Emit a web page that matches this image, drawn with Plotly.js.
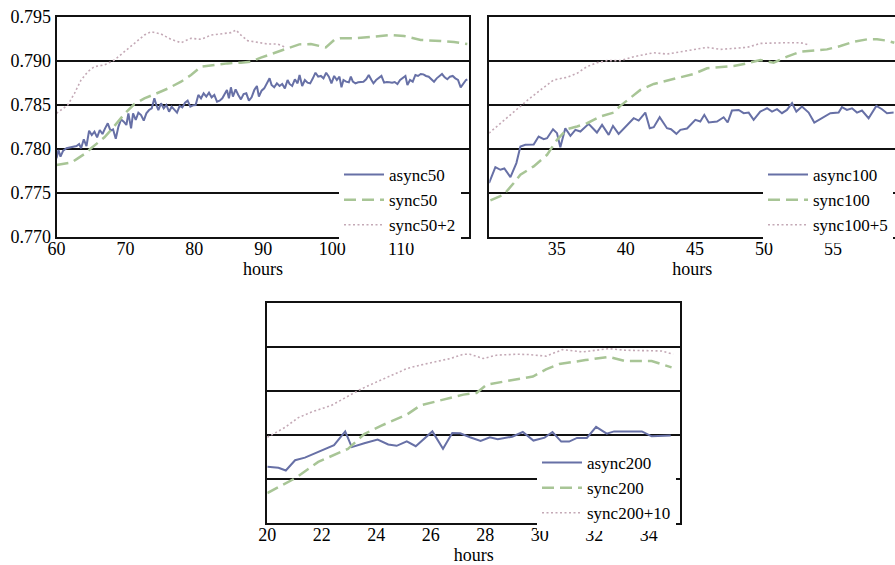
<!DOCTYPE html>
<html>
<head>
<meta charset="utf-8">
<script src="https://cdn.plot.ly/plotly-3.0.1.min.js"></script>
<style>html,body{margin:0;padding:0;background:#fff;overflow:hidden}#chart{width:895px;height:565px}</style>
</head>
<body>
<div id="chart"></div>
<script>
// ---- Panel 1: batch 50 ----
const async50X = [60.00,60.29,60.58,60.97,61.45,61.93,62.42,62.90,63.29,63.57,63.96,64.35,64.73,65.12,65.51,65.89,66.28,66.67,67.05,67.44,67.83,68.21,68.60,68.99,69.37,69.76,70.14,70.43,70.82,71.11,71.50,71.88,72.27,72.66,73.04,73.43,73.82,74.20,74.49,74.78,75.17,75.56,75.94,76.33,76.71,77.10,77.49,77.87,78.26,78.65,79.03,79.42,79.81,80.19,80.58,80.97,81.35,81.74,82.13,82.51,82.90,83.29,83.67,84.06,84.44,84.73,85.02,85.31,85.60,85.99,86.38,86.76,87.15,87.54,87.92,88.31,88.70,89.08,89.37,89.76,90.14,90.53,90.92,91.21,91.59,91.98,92.37,92.75,93.14,93.53,93.82,94.20,94.59,94.98,95.27,95.65,96.04,96.43,96.81,97.20,97.58,97.97,98.36,98.74,99.13,99.52,99.90,100.29,100.68,101.06,101.35,101.64,102.03,102.42,102.71,103.00,103.38,103.77,104.15,104.54,104.93,105.31,105.70,105.99,106.38,106.76,107.15,107.54,107.92,108.31,108.70,109.08,109.47,109.86,110.24,110.63,110.92,111.30,111.69,112.08,112.46,112.85,113.24,113.62,114.01,114.40,114.78,115.17,115.56,115.94,116.33,116.71,117.10,117.49,117.87,118.26,118.65,119.03,119.42,119.61];
const async50Y = [0.77894,0.77989,0.77913,0.77981,0.78008,0.78019,0.78026,0.78034,0.78057,0.78008,0.78110,0.78034,0.78208,0.78159,0.78197,0.78133,0.78216,0.78170,0.78235,0.78292,0.78208,0.78223,0.78117,0.78254,0.78337,0.78311,0.78273,0.78405,0.78235,0.78405,0.78330,0.78413,0.78386,0.78322,0.78405,0.78443,0.78462,0.78576,0.78500,0.78443,0.78519,0.78462,0.78500,0.78424,0.78481,0.78443,0.78413,0.78489,0.78473,0.78526,0.78549,0.78481,0.78496,0.78500,0.78614,0.78576,0.78633,0.78595,0.78640,0.78587,0.78614,0.78538,0.78549,0.78576,0.78633,0.78670,0.78576,0.78701,0.78595,0.78678,0.78614,0.78564,0.78625,0.78633,0.78549,0.78587,0.78670,0.78716,0.78595,0.78663,0.78689,0.78754,0.78803,0.78727,0.78701,0.78746,0.78716,0.78739,0.78689,0.78784,0.78739,0.78716,0.78792,0.78746,0.78841,0.78716,0.78784,0.78754,0.78746,0.78803,0.78867,0.78822,0.78830,0.78803,0.78867,0.78822,0.78746,0.78830,0.78784,0.78822,0.78701,0.78784,0.78765,0.78758,0.78822,0.78765,0.78746,0.78758,0.78761,0.78765,0.78792,0.78841,0.78784,0.78746,0.78784,0.78803,0.78830,0.78754,0.78761,0.78758,0.78754,0.78761,0.78739,0.78784,0.78803,0.78830,0.78727,0.78784,0.78765,0.78841,0.78830,0.78852,0.78848,0.78830,0.78822,0.78792,0.78765,0.78803,0.78830,0.78852,0.78814,0.78792,0.78822,0.78830,0.78803,0.78784,0.78701,0.78746,0.78784,0.78792];
const sync50X = [60.00,61.16,62.13,63.09,64.06,65.02,65.99,66.96,67.92,68.89,69.86,71.30,72.75,74.20,76.14,78.07,79.52,80.97,82.90,84.83,86.76,88.21,89.66,91.59,93.53,95.22,96.91,99.08,100.30,101.20,103.19,106.09,108.50,110.43,112.85,115.75,117.68,119.61];
const sync50Y = [0.77818,0.77837,0.77845,0.77894,0.77943,0.78008,0.78072,0.78133,0.78216,0.78311,0.78398,0.78511,0.78576,0.78621,0.78686,0.78765,0.78841,0.78936,0.78955,0.78973,0.78981,0.78992,0.79038,0.79087,0.79144,0.79189,0.79193,0.79155,0.79240,0.79258,0.79258,0.79277,0.79295,0.79284,0.79239,0.79227,0.79216,0.79193];
const sync50p2X = [60.00,61.64,62.61,63.57,64.54,65.51,66.96,68.41,69.86,71.30,72.75,73.72,75.17,76.62,78.07,79.52,80.97,82.42,83.86,85.31,86.04,86.76,87.73,89.18,90.63,92.08,93.04];
const sync50p2Y = [0.78405,0.78500,0.78633,0.78784,0.78879,0.78936,0.78955,0.79011,0.79106,0.79201,0.79295,0.79333,0.79307,0.79246,0.79208,0.79258,0.79246,0.79295,0.79307,0.79322,0.79352,0.79295,0.79231,0.79208,0.79193,0.79193,0.79163];

// ---- Panel 2: batch 100 ----
const async100X = [30.10,30.56,30.92,31.21,31.65,32.08,32.37,32.73,33.33,33.69,34.06,34.30,34.73,35.02,35.26,35.62,35.99,36.35,36.71,37.31,37.91,38.28,38.76,39.07,39.48,40.09,40.57,40.93,41.41,41.73,42.02,42.45,42.98,43.27,43.66,43.95,44.43,45.03,45.39,45.68,46.00,46.60,47.08,47.37,47.68,48.17,48.53,48.89,49.25,49.73,50.22,50.58,50.94,51.30,51.66,52.03,52.34,52.75,53.23,53.64,54.08,54.80,55.40,55.64,56.00,56.37,56.73,57.09,57.57,58.13,58.54,58.90,59.38];
const async100Y = [0.77613,0.77794,0.77764,0.77779,0.77681,0.77840,0.78029,0.78047,0.78051,0.78142,0.78112,0.78123,0.78225,0.78180,0.78021,0.78236,0.78149,0.78218,0.78199,0.78286,0.78187,0.78274,0.78161,0.78263,0.78172,0.78274,0.78350,0.78323,0.78414,0.78236,0.78248,0.78361,0.78236,0.78225,0.78172,0.78218,0.78233,0.78331,0.78312,0.78388,0.78301,0.78312,0.78361,0.78301,0.78437,0.78444,0.78407,0.78414,0.78331,0.78425,0.78463,0.78425,0.78452,0.78407,0.78444,0.78520,0.78425,0.78482,0.78414,0.78301,0.78338,0.78407,0.78414,0.78475,0.78444,0.78463,0.78414,0.78437,0.78350,0.78490,0.78452,0.78407,0.78414];
const sync100X = [30.20,31.16,31.89,32.37,33.33,34.30,35.02,35.75,36.47,37.20,38.16,39.12,39.60,40.33,41.05,42.02,42.98,43.95,44.91,45.88,46.84,47.81,48.77,49.74,50.70,51.67,52.63,53.60,54.56,55.53,56.49,57.46,58.18,58.90,59.43];
const sync100Y = [0.77416,0.77480,0.77613,0.77707,0.77802,0.77934,0.78104,0.78225,0.78255,0.78293,0.78369,0.78414,0.78490,0.78577,0.78671,0.78739,0.78777,0.78815,0.78853,0.78917,0.78928,0.78943,0.78974,0.79011,0.78981,0.79049,0.79106,0.79117,0.79132,0.79170,0.79219,0.79246,0.79246,0.79231,0.79208];
const sync100p5X = [30.10,30.92,31.89,32.85,33.82,34.78,35.75,36.47,37.19,37.91,38.64,39.60,40.57,41.53,42.02,42.98,43.95,44.91,45.88,46.84,47.81,48.77,49.74,50.70,51.67,52.63,53.31];
const sync100p5Y = [0.78180,0.78293,0.78425,0.78550,0.78671,0.78785,0.78815,0.78860,0.78936,0.78981,0.79004,0.79004,0.79049,0.79079,0.79094,0.79079,0.79106,0.79125,0.79155,0.79132,0.79144,0.79155,0.79200,0.79208,0.79208,0.79208,0.79181];

// ---- Panel 3: batch 200 ----
const async200X = [20.00,20.41,20.68,21.02,21.38,21.75,22.11,22.45,22.86,23.10,23.56,24.05,24.44,24.75,25.12,25.45,26.06,26.45,26.79,27.08,27.44,27.83,28.17,28.46,28.99,29.38,29.77,30.18,30.47,30.79,31.08,31.37,31.73,32.07,32.46,32.73,33.26,33.75,34.11,34.47,34.81];
const async200Y = [0.77638,0.77627,0.77597,0.77713,0.77743,0.77791,0.77843,0.77884,0.78041,0.77862,0.77907,0.77948,0.77892,0.77877,0.77929,0.77873,0.78041,0.77843,0.78022,0.78019,0.77974,0.77933,0.77974,0.77952,0.77981,0.78034,0.77937,0.77970,0.78034,0.77925,0.77925,0.77967,0.77967,0.78093,0.78015,0.78041,0.78041,0.78041,0.77985,0.77993,0.77993];
const sync200X = [20.00,21.02,21.87,22.96,23.56,24.17,25.14,25.62,26.23,27.20,27.68,28.05,28.90,29.75,30.23,30.72,31.68,32.53,33.14,34.11,34.84];
const sync200Y = [0.77340,0.77508,0.77694,0.77843,0.78011,0.78105,0.78235,0.78336,0.78384,0.78459,0.78478,0.78571,0.78619,0.78664,0.78746,0.78806,0.78851,0.78888,0.78840,0.78840,0.78769];
const sync200p10X = [20.00,20.65,21.14,21.62,22.35,22.84,23.44,24.05,24.53,25.14,25.62,26.23,26.72,27.20,27.44,27.93,28.41,29.14,29.62,30.23,30.84,31.56,32.53,33.14,33.87,34.47,34.90];
const sync200p10Y = [0.77974,0.78086,0.78198,0.78261,0.78336,0.78422,0.78522,0.78608,0.78672,0.78757,0.78795,0.78840,0.78869,0.78918,0.78918,0.78869,0.78907,0.78918,0.78914,0.78896,0.78970,0.78944,0.78981,0.78963,0.78955,0.78955,0.78918];

const yTicks = [0.770, 0.775, 0.780, 0.785, 0.790, 0.795];

const cAsync = '#6770a6', cSync = '#a8c596', cPlus = '#c4a9b6';
const FONT = 'Times New Roman, Liberation Serif, Tinos, DejaVu Serif, serif';

function tr(x, y, name, kind, xa, ya, lg) {
  const line = kind === 'a' ? {color: cAsync, width: 2}
             : kind === 's' ? {color: cSync, width: 2.5, dash: '12px,6px'}
             : {color: cPlus, width: 1.6, dash: '2px,2.5px'};
  return {x, y, name, type: 'scatter', mode: 'lines', line, xaxis: xa, yaxis: ya, legend: lg};
}

const data = [
  tr(async50X, async50Y, 'async50', 'a', 'x', 'y', 'legend'),
  tr(sync50X, sync50Y, 'sync50', 's', 'x', 'y', 'legend'),
  tr(sync50p2X, sync50p2Y, 'sync50+2', 'p', 'x', 'y', 'legend'),
  tr(async100X, async100Y, 'async100', 'a', 'x2', 'y2', 'legend2'),
  tr(sync100X, sync100Y, 'sync100', 's', 'x2', 'y2', 'legend2'),
  tr(sync100p5X, sync100p5Y, 'sync100+5', 'p', 'x2', 'y2', 'legend2'),
  tr(async200X, async200Y, 'async200', 'a', 'x3', 'y3', 'legend3'),
  tr(sync200X, sync200Y, 'sync200', 's', 'x3', 'y3', 'legend3'),
  tr(sync200p10X, sync200p10Y, 'sync200+10', 'p', 'x3', 'y3', 'legend3')
];

const W = 895, H = 565;
const px = v => v / W, py = v => 1 - v / H;

function xax(domain, range, dtick, anchor) {
  return {domain, range, dtick, tick0: 0, anchor, showline: true, mirror: true, linecolor: '#111', linewidth: 2,
    showgrid: false, zeroline: false, ticks: '', ticklabelstandoff: -6,
    tickfont: {family: FONT, size: 18, color: '#000'},
    title: {text: 'hours', font: {family: FONT, size: 18, color: '#000'}, standoff: 3}};
}
function yax(domain, labels, anchor, mirror) {
  return {domain, range: [0.770, 0.795], tickvals: yTicks, ticktext: yTicks.map(v => v.toFixed(3)), anchor,
    showticklabels: labels, showline: true, mirror, linecolor: '#111', linewidth: 2,
    showgrid: true, gridcolor: '#111', gridwidth: 2, zeroline: false, ticks: '',
    tickfont: {family: FONT, size: 18, color: '#000'}};
}
function leg(x, y) {
  return {x, y, xanchor: 'left', yanchor: 'top', bgcolor: '#fff', borderwidth: 0,
    font: {family: FONT, size: 17, color: '#000'}, itemwidth: 40, traceorder: 'normal'};
}

const layout = {
  width: W, height: H, margin: {l: 0, r: 0, t: 0, b: 0},
  paper_bgcolor: '#fff', plot_bgcolor: '#fff', showlegend: true,
  font: {family: FONT, color: '#000'},
  xaxis: xax([px(56.5), px(469.3)], [60, 119.9], 10, 'y'),
  yaxis: yax([py(237), py(17)], true, 'x', true),
  xaxis2: xax([px(489.3), 1], [30.12, 59.48], 5, 'y2'),
  yaxis2: yax([py(237), py(17)], false, 'x2', false),
  xaxis3: xax([px(267.3), px(680)], [20, 35.15], 2, 'y3'),
  yaxis3: yax([py(523), py(303)], false, 'x3', true),
  legend: leg(px(339), py(157)),
  legend2: leg(px(763), py(157)),
  legend3: leg(px(537), py(445))
};

Plotly.newPlot('chart', data, layout, {displayModeBar: false, staticPlot: true});
</script>
</body>
</html>
